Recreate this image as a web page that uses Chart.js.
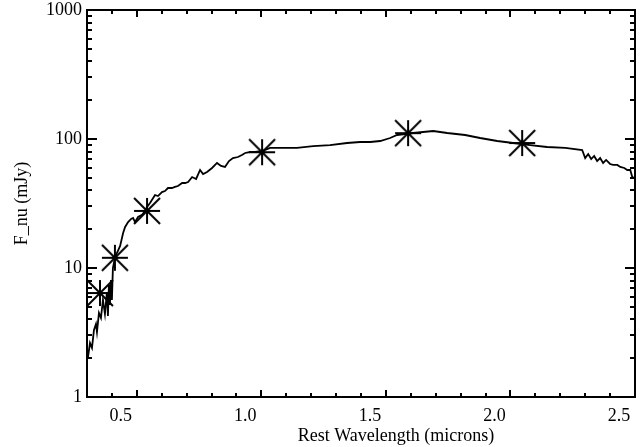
<!DOCTYPE html>
<html>
<head>
<meta charset="utf-8">
<script src="https://cdn.jsdelivr.net/npm/chart.js@4/dist/chart.umd.min.js"></script>
<style>
html, body { margin: 0; padding: 0; background: #fff; }
</style>
</head>
<body>
<canvas id="sedChart" width="644" height="447"></canvas>
<script>
// spectrum (rest wavelength in microns, F_nu in mJy)
var specWave = [0.304, 0.312, 0.320, 0.328, 0.336, 0.340, 0.348, 0.356, 0.364, 0.372,
    0.380, 0.384, 0.388, 0.392, 0.396, 0.400, 0.404, 0.412, 0.420, 0.433,
    0.445, 0.453, 0.465, 0.477, 0.485, 0.493, 0.505, 0.521, 0.533, 0.541,
    0.553, 0.573, 0.585, 0.601, 0.613, 0.625, 0.641, 0.653, 0.665, 0.682,
    0.694, 0.706, 0.722, 0.738, 0.754, 0.766, 0.782, 0.802, 0.822, 0.838,
    0.854, 0.870, 0.886, 0.906, 0.922, 0.935, 0.955, 0.975, 1.003, 1.035,
    1.095, 1.143, 1.208, 1.276, 1.344, 1.396, 1.437, 1.477, 1.517, 1.545,
    1.577, 1.609, 1.649, 1.690, 1.718, 1.746, 1.818, 1.878, 1.947, 2.011,
    2.079, 2.147, 2.220, 2.288, 2.300, 2.312, 2.324, 2.336, 2.348, 2.360,
    2.372, 2.384, 2.400, 2.412, 2.429, 2.441, 2.457, 2.469, 2.481, 2.489, 2.497];
var specFlux = [2.04, 2.62, 2.40, 3.31, 3.68, 3.19, 4.48, 4.10, 5.65, 4.40,
    6.51, 4.25, 7.38, 5.17, 8.07, 5.65, 10.0, 11.96, 13.07, 14.81,
    18.67, 20.8, 22.7, 24.0, 24.4, 22.7, 24.9, 25.8, 27.7, 29.7,
    31.9, 36.8, 36.1, 38.8, 39.5, 41.7, 41.7, 42.5, 43.2, 45.6,
    45.6, 46.4, 50.7, 49.0, 57.5, 53.5, 55.5, 59.6, 65.2, 61.8,
    60.7, 67.5, 71.2, 72.5, 75.2, 77.9, 79.3, 79.3, 80.7, 85.2,
    85.2, 85.2, 88.2, 89.8, 93.1, 94.8, 94.8, 96.5, 101.8, 107.4,
    109.3, 111.3, 113.3, 115.3, 113.3, 111.3, 107.4, 101.8, 96.5, 93.1,
    89.8, 86.7, 85.2, 82.2, 71.2, 76.5, 69.9, 73.9, 67.5, 71.2,
    65.2, 68.8, 64.0, 62.9, 62.9, 60.7, 59.6, 57.5, 57.5, 50.7, 49.9];

// photometry points
var photWave = [0.352, 0.412, 0.541, 1.003, 1.589, 2.047];
var photFlux = [6.4, 12.0, 27.7, 79.0, 111.0, 93.1];

var xTicks = [0.5, 1.0, 1.5, 2.0, 2.5];
var yTicks = [1, 10, 100, 1000];
var xTitle = 'Rest Wavelength (microns)';
var yTitle = 'F_nu (mJy)';

var fontFam = '"Liberation Serif", "Times New Roman", serif';

function makeAsterisk(r) {
    var c = document.createElement('canvas');
    var s = 2 * r + 4;
    c.width = s; c.height = s;
    var g = c.getContext('2d');
    var m = s / 2;
    g.strokeStyle = '#000';
    g.lineWidth = 2;
    g.beginPath();
    g.moveTo(m - r, m); g.lineTo(m + r, m);
    g.moveTo(m, m - r); g.lineTo(m, m + r);
    g.moveTo(m - r, m - r); g.lineTo(m + r, m + r);
    g.moveTo(m - r, m + r); g.lineTo(m + r, m - r);
    g.stroke();
    return c;
}

var specPts = [];
for (var i = 0; i < specWave.length; i++) {
    specPts.push({x: specWave[i], y: specFlux[i]});
}
var photPts = [];
for (var j = 0; j < photWave.length; j++) {
    photPts.push({x: photWave[j], y: photFlux[j]});
}

// box, inward ticks on all sides and the x title
var idlFrame = {
    id: 'idlFrame',
    afterDraw: function(chart) {
        var ctx = chart.ctx, a = chart.chartArea;
        var xs = chart.scales.x, ys = chart.scales.y;
        ctx.save();
        ctx.strokeStyle = '#000';
        ctx.lineWidth = 2;
        ctx.strokeRect(a.left, a.top, a.right - a.left, a.bottom - a.top);
        ctx.beginPath();
        for (var v = 3; v <= 25; v++) {
            var px = Math.round(xs.getPixelForValue(v / 10));
            var len = (v % 5 === 0) ? 7 : 4;
            ctx.moveTo(px, a.bottom); ctx.lineTo(px, a.bottom - len);
            ctx.moveTo(px, a.top); ctx.lineTo(px, a.top + len);
        }
        for (var d = 1; d <= 1000; d *= 10) {
            for (var k = 1; k <= 9; k++) {
                var val = d * k;
                if (val > 1000) break;
                var py = Math.round(ys.getPixelForValue(val));
                var l = (k === 1) ? 10 : 5;
                ctx.moveTo(a.left, py); ctx.lineTo(a.left + l, py);
                ctx.moveTo(a.right, py); ctx.lineTo(a.right - l, py);
            }
        }
        ctx.stroke();
        ctx.fillStyle = '#000';
        ctx.font = '18px ' + fontFam;
        ctx.textAlign = 'center';
        ctx.textBaseline = 'middle';
        ctx.fillText(xTitle, 396, 436);
        ctx.restore();
    }
};

var ctx = document.getElementById('sedChart');
var sedChart = new Chart(ctx, {
    type: 'scatter',
    data: {
        datasets: [{
            data: specPts,
            showLine: true,
            borderColor: '#000',
            borderWidth: 1.8,
            pointRadius: 0,
            tension: 0
        }, {
            data: photPts,
            showLine: false,
            pointStyle: makeAsterisk(13),
            pointRadius: 13
        }]
    },
    options: {
        responsive: false,
        devicePixelRatio: 1,
        animation: false,
        layout: { autoPadding: false, padding: { top: 10, right: 9, left: 0, bottom: 0 } },
        plugins: {
            legend: { display: false },
            tooltip: { enabled: false }
        },
        scales: {
            x: {
                type: 'linear',
                min: 0.3,
                max: 2.5,
                afterFit: function(s) { s.height = 50; s.paddingLeft = 0; s.paddingRight = 0; },
                afterBuildTicks: function(s) { s.ticks = xTicks.map(function(v) { return {value: v}; }); },
                grid: { display: false, drawTicks: false },
                border: { display: false },
                ticks: {
                    color: '#000',
                    font: { family: fontFam, size: 18 },
                    padding: 8,
                    labelOffset: -16,
                    maxRotation: 0,
                    autoSkip: false,
                    callback: function(v) { return Number(v).toFixed(1); }
                }
            },
            y: {
                type: 'logarithmic',
                min: 1,
                max: 1000,
                afterFit: function(s) { s.width = 87; s.paddingTop = 0; s.paddingBottom = 0; },
                afterBuildTicks: function(s) { s.ticks = yTicks.map(function(v) { return {value: v}; }); },
                grid: { display: false, drawTicks: false },
                border: { display: false },
                ticks: {
                    color: '#000',
                    font: { family: fontFam, size: 18 },
                    padding: 5,
                    autoSkip: false,
                    callback: function(v) { return String(v); }
                },
                title: {
                    display: true,
                    text: yTitle,
                    color: '#000',
                    font: { family: fontFam, size: 18, weight: 'normal' },
                    padding: { top: 11, bottom: 0 }
                }
            }
        }
    },
    plugins: [idlFrame]
});
</script>
</body>
</html>
